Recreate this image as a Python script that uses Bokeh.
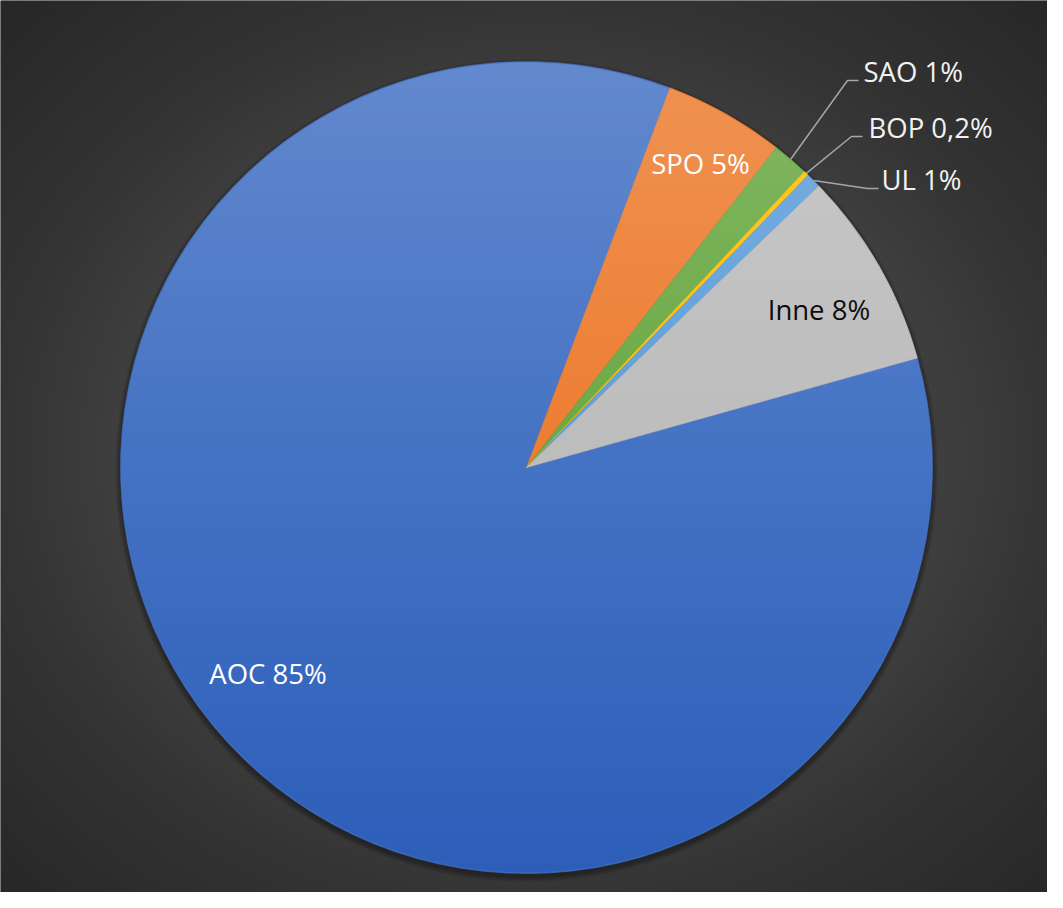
import numpy as np
from bokeh.plotting import figure
from bokeh.models import ColumnDataSource, Range1d
from bokeh.core.properties import value
from bokeh.embed import file_html
from bokeh.resources import INLINE

# ---- data ----
categories = ["AOC", "SPO", "SAO", "BOP", "UL", "Inne"]
shares = [85.1, 4.8, 1.45, 0.2, 0.6, 7.85]
labels = ["AOC 85%", "SPO 5%", "SAO 1%", "BOP 0,2%", "UL 1%", "Inne  8%"]

# ---- styles / layout ----
colors = ["#4472c4", "#ED7D31", "#6aa944", "#FFC000", "#5f9fdb", "#bdbdbd"]
W, H = 1047, 892
TEXT_SHIFT = 9  # compensation for the renderer's baseline placement


def sx(x):
    return x


def sy(y):
    return H - y


cx, cy, R = sx(526), sy(467), 406
first_angle = 74.35  # degrees clockwise from 12 o'clock where the first slice starts

total = float(sum(shares))
theta = np.cumsum([0.0] + [s / total * 360.0 for s in shares]) + first_angle
start = np.deg2rad(90 - theta[:-1])
end = np.deg2rad(90 - theta[1:])
mid = (theta[:-1] + theta[1:]) / 2.0

p = figure(width=W, height=H, x_range=Range1d(0, W), y_range=Range1d(0, H),
           output_backend="svg", toolbar_location=None, min_border=0)
p.axis.visible = False
p.grid.visible = False
p.outline_line_color = None
p.background_fill_color = "#333333"
p.border_fill_color = "#333333"

# ---- background radial gradient ----
nx, ny = 524, 446
X = (np.arange(nx) + 0.5) * W / nx
Y = H - (np.arange(ny) + 0.5) * H / ny
XX, YY = np.meshgrid(X, Y)
d = np.sqrt(((XX - 531) / 530.0) ** 2 + ((YY - 453) / 452.0) ** 2)
g = np.interp(d, [0, 0.8, 1.0, 1.42], [78, 62, 52, 39]).astype(np.uint8)
bg = np.zeros((ny, nx, 4), dtype=np.uint8)
bg[..., 0] = g
bg[..., 1] = g
bg[..., 2] = g
bg[..., 3] = 255
p.image_rgba(image=[bg.view(dtype=np.uint32).reshape((ny, nx))], x=0, y=0, dw=W, dh=H)

# ---- soft shadow under the pie ----
for k in range(1, 7):
    p.circle(x=[cx], y=[cy - 3], radius=[R + k * 0.9], fill_color="black",
             fill_alpha=0.06, line_color=None)

# ---- slices ----
src = ColumnDataSource(dict(cat=categories, share=shares, start=start, end=end, color=colors))
p.wedge(x=cx, y=cy, radius=R, start_angle="start", end_angle="end", direction="clock",
        fill_color="color", line_color="color", line_width=0.6, source=src)

# ---- vertical shading overlay over the pie ----
N = 2 * R
px = cx - R + (np.arange(N) + 0.5)
py = cy - R + (np.arange(N) + 0.5)
PX, PY = np.meshgrid(px, py)
dist = np.sqrt((PX - cx) ** 2 + (PY - cy) ** 2)
mask = np.clip(R - 0.3 - dist, 0, 1)
t = (PY - cy) / R
ov = np.zeros((N, N, 4), dtype=np.float64)
top = t > 0
ov[..., 0] = np.where(top, 255, 0)
ov[..., 1] = np.where(top, 255, 57)
ov[..., 2] = np.where(top, 255, 165)
alpha = np.where(top, 0.17 * t, 0.35 * (-t)) * mask
ov[..., 3] = alpha * 255
ov = np.clip(ov, 0, 255).astype(np.uint8)
p.image_rgba(image=[ov.view(dtype=np.uint32).reshape((N, N))], x=cx - R, y=cy - R, dw=N, dh=N)

# ---- labels ----
font = value("Open Sans")
fsize = "27.5px"
inside_idx = [0, 1, 5]
inside_pos = [(267.5, 682), (700, 172), (822, 318)]
inside_col = ["#ffffff", "#ffffff", "#0d0d0d"]
p.text(x=[sx(a) for a, b in inside_pos], y=[sy(b - TEXT_SHIFT) for a, b in inside_pos],
       text=[labels[i] for i in inside_idx], text_color=inside_col,
       text_font=font, text_font_size=fsize, text_align="center",
       text_baseline="alphabetic")

outside_idx = [2, 3, 4]
outside_pos = [(863, 80), (868, 136), (881, 188)]
elbow = [(847, 80, 858), (851, 136, 862), (867, 188, 878)]
xs, ys = [], []
for i, (ex, ey, ex2) in zip(outside_idx, elbow):
    ax = cx + R * np.sin(np.deg2rad(mid[i]))
    ay = cy + R * np.cos(np.deg2rad(mid[i]))
    xs.append([ax, sx(ex), sx(ex2)])
    ys.append([ay, sy(ey), sy(ey)])
p.multi_line(xs=xs, ys=ys, line_color="#a6a6a6", line_width=1.5)
p.text(x=[sx(a) for a, b in outside_pos], y=[sy(b - TEXT_SHIFT) for a, b in outside_pos],
       text=[labels[i] for i in outside_idx], text_color="#f2f2f2",
       text_font=font, text_font_size=fsize, text_align="left",
       text_baseline="alphabetic")

open("out.html", "w").write(file_html(p, INLINE))
